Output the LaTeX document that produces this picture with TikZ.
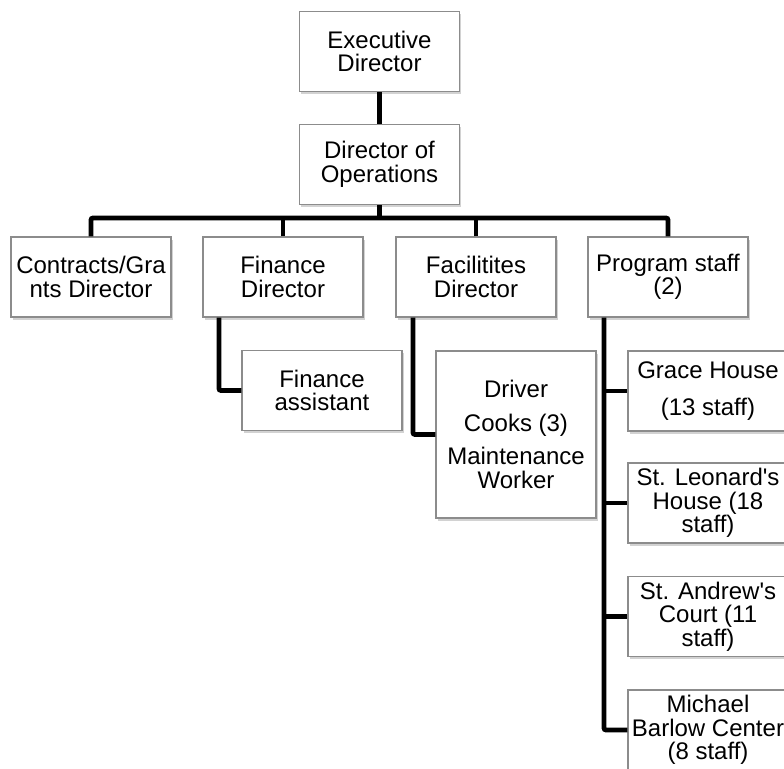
\documentclass[tikz,border=0pt]{standalone}
\usepackage{fontspec}
\setmainfont{Liberation Sans}
\usetikzlibrary{shadows}
\definecolor{boxline}{HTML}{8C8C8C}
\tikzset{
  box/.style={draw=boxline, line width=1.2pt, fill=white, minimum width=160pt, minimum height=80pt,
    inner sep=0pt, align=center, font=\fontsize{24}{23.5}\selectfont,
    drop shadow={shadow xshift=1.5pt, shadow yshift=-2.5pt, fill=black!22, opacity=0.8}},
  conn/.style={line width=4.8pt, draw=black, rounded corners=2pt}
}
\begin{document}
\begin{tikzpicture}[x=1pt,y=-1pt]
\useasboundingbox (0,0) rectangle (784,768);
\coordinate (bar) at (0,218);
\node[box] (exec) at (379.5,51.5) {Executive\\Director};
\node[box] (ops) at (379.5,164.5) {Director of\\Operations};
\node[box] (contracts) at (91,277) {Contracts/Gra\\nts Director};
\node[box] (finance) at (283,277) {Finance\\Director};
\node[box] (facil) at (476,277) {Facilitites\\Director};
\node[box] (program) at (668,277) {Program staff\\(2)};
\node[box] (fassist) at (322,390.5) {Finance\\assistant};
\node[box, minimum height=167pt] (facsub) at (516,434.5) {Driver\\[10pt]Cooks (3)\\[10pt]Maintenance\\Worker};
\node[box] (grace) at (708,391) {Grace House\\[13pt](13 staff)};
\node[box] (leonard) at (708,503) {St. Leonard\textquotesingle s\\House (18\\staff)};
\node[box] (andrew) at (708,616.5) {St. Andrew\textquotesingle s\\Court (11\\staff)};
\node[box] (michael) at (708,730) {Michael\\Barlow Center\\(8 staff)};
\draw[conn] (exec.south) -- (ops.north);
\draw[conn] (ops.south) -- (ops.south |- bar);
\draw[conn] (contracts.north) -- (contracts.north |- bar) -- (program.north |- bar) -- (program.north);
\draw[conn] (finance.north) -- (finance.north |- bar);
\draw[conn] (facil.north) -- (facil.north |- bar);
\draw[conn] ([xshift=-64pt]finance.south) |- (fassist.west);
\draw[conn] ([xshift=-63pt]facil.south) |- (facsub.west);
\draw[conn] ([xshift=-64pt]program.south) |- (michael.west);
\draw[conn] ([xshift=-64pt]program.south |- grace.west) -- (grace.west);
\draw[conn] ([xshift=-64pt]program.south |- leonard.west) -- (leonard.west);
\draw[conn] ([xshift=-64pt]program.south |- andrew.west) -- (andrew.west);
\end{tikzpicture}
\end{document}
